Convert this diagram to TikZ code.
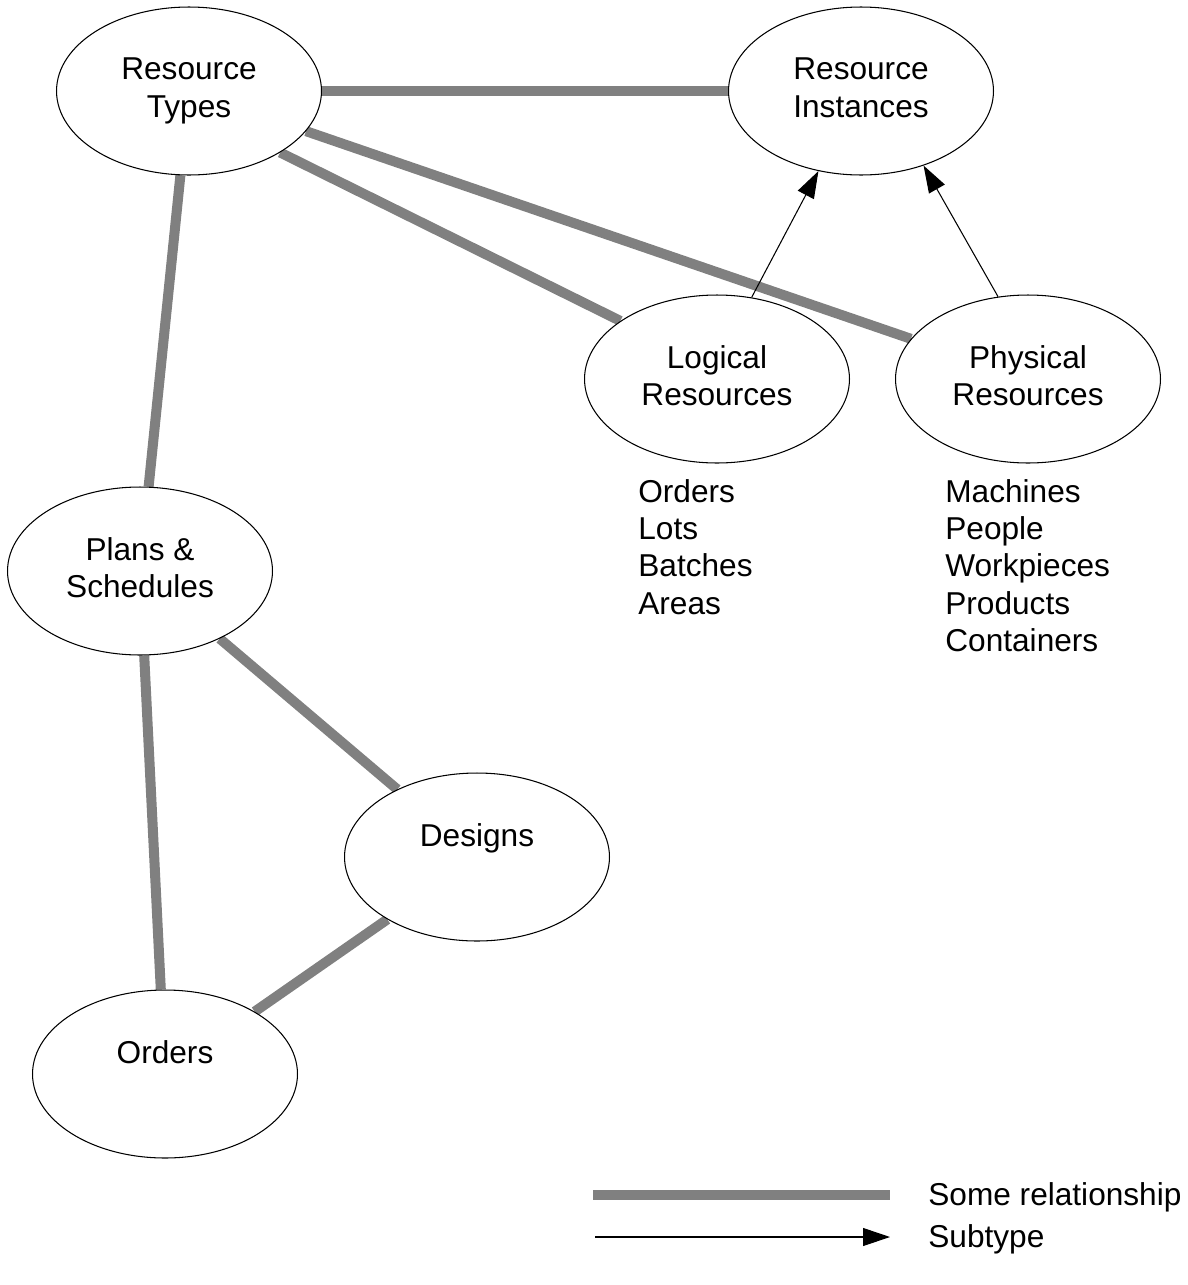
\documentclass[tikz,border=0pt]{standalone}
\usepackage{fontspec}
\setmainfont{Liberation Sans}
\usetikzlibrary{arrows.meta,shapes.geometric,backgrounds}
\definecolor{relgray}{RGB}{128,128,128}

\begin{document}
\begin{tikzpicture}[x=0.02cm,y=-0.02cm,
>={Triangle[length=0.54cm,width=0.36cm]},
font=\fontsize{18pt}{21.2pt}\selectfont,
entity/.style={ellipse,draw,line width=0.6pt,fill=white,
  minimum width=5.3cm,minimum height=3.36cm,inner sep=0pt,align=center,
  execute at end node=\vphantom{y}},
members/.style={anchor=north west,align=left,inner sep=0pt},
rel/.style={draw,color=relgray,line width=5.7pt},
sub/.style={->,draw,line width=0.6pt}]
\useasboundingbox (0,0) rectangle (1187,1285);

\node[entity] (rt)  at (189,91)   {Resource\\Types};
\node[entity] (ri)  at (861,91)   {Resource\\Instances};
\node[entity] (lr)  at (717,379)  {Logical\\Resources};
\node[entity] (pr)  at (1028,379) {Physical\\Resources};
\node[entity] (ps)  at (140,571)  {Plans \&\\Schedules};
\node[entity] (de)  at (477,857)  {Designs\\~};
\node[entity] (ord) at (165,1074) {Orders\\~};

\node[members] (lrlist) at (638,479) {Orders\\Lots\\Batches\\Areas};
\node[members] (prlist) at (945,479) {Machines\\People\\Workpieces\\Products\\Containers};

\begin{scope}[on background layer]
\path
(rt) edge[rel] (ri)
     edge[rel] (pr)
     edge[rel] (ps)
(rt.-34) edge[rel] (lr.149)
(ps) edge[rel] (de)
     edge[rel] (ord)
(de) edge[rel] (ord);
\end{scope}

\path
(lr.67)  edge[sub] (ri.242)
(pr.110) edge[sub] (ri.-50);

% key
\coordinate (relA) at (593,1195);
\coordinate (relB) at (890,1195);
\coordinate (subA) at (595,1237);
\coordinate (subB) at (890,1237);
\node[anchor=west,inner sep=0pt] (relkey) at (928,1197) {Some relationship};
\node[anchor=west,inner sep=0pt] (subkey) at (928,1239) {Subtype};
\path (relA) edge[rel] (relB);
\path (subA) edge[sub] (subB);
\end{tikzpicture}
\end{document}
